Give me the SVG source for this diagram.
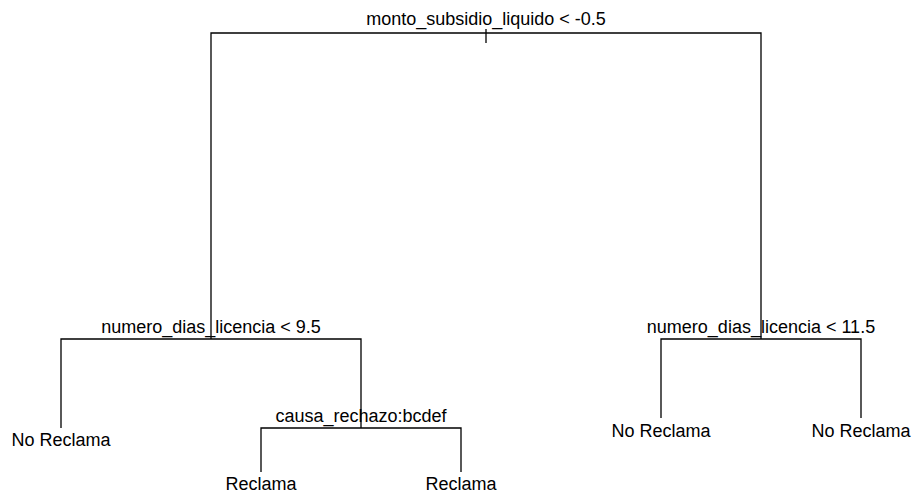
<svg xmlns="http://www.w3.org/2000/svg" width="912" height="493" viewBox="0 0 912 493">
<style>
.e{stroke:#000;stroke-width:1.3;fill:none}
text{font-family:"Liberation Sans",Arial,sans-serif;font-size:18px;fill:#000;text-anchor:middle}
</style>
<rect width="912" height="493" fill="#fff"/>
<g id="connectors">
<path class="e" d="M211,339V33H761V339"/>
<path class="e" d="M486,29V43"/>
<path class="e" d="M61,428V339H361V428"/>
<path class="e" d="M261,472V428H461V472"/>
<path class="e" d="M661,418V339H861V418"/>
</g>
<g id="n1"><text x="486" y="25">monto_subsidio_liquido &lt; -0.5</text></g>
<g id="n2"><text x="211" y="333">numero_dias_licencia &lt; 9.5</text></g>
<g id="n3"><text x="761" y="333">numero_dias_licencia &lt; 11.5</text></g>
<g id="n4"><text x="61" y="446">No Reclama</text></g>
<g id="n5"><text x="361" y="422">causa_rechazo:bcdef</text></g>
<g id="n6"><text x="261" y="490">Reclama</text></g>
<g id="n7"><text x="461" y="490">Reclama</text></g>
<g id="n8"><text x="661" y="437">No Reclama</text></g>
<g id="n9"><text x="861" y="437">No Reclama</text></g>
</svg>
